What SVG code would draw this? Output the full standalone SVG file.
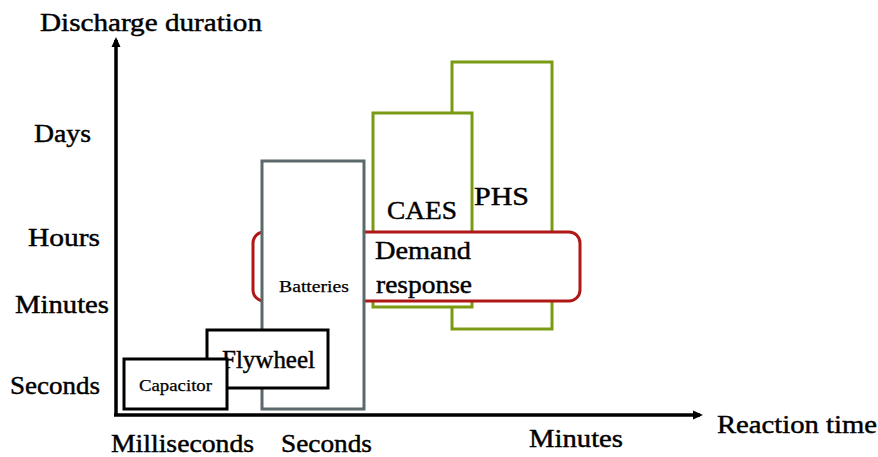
<svg xmlns="http://www.w3.org/2000/svg" width="878" height="457" viewBox="0 0 878 457">
<style>
text{font-family:"Liberation Serif","Times New Roman",serif;fill:#000;stroke:#000;stroke-width:0.45}
.lab{font-size:26px}
.box{fill:#fff;stroke-width:3}
.blk{stroke:#000}
.gry{stroke:#5b696d}
.grn{stroke:#7a9a14;fill:#fff;stroke-width:3}
.red{stroke:#b01818;fill:#fff;stroke-width:3}
</style>
<defs>
<marker id="ah" markerWidth="10" markerHeight="10" refX="7" refY="5" orient="auto" markerUnits="userSpaceOnUse" viewBox="0 0 10 10">
<path d="M0,0.5 L10,5 L0,9.5 z" fill="#000"/>
</marker>
</defs>
<g id="axes">
<line x1="116" y1="415" x2="116" y2="40" stroke="#000" stroke-width="3.5" marker-end="url(#ah)"/>
<line x1="114" y1="415" x2="700" y2="415" stroke="#000" stroke-width="3.5" marker-end="url(#ah)"/>
</g>
<g id="axis-labels">
<text class="lab" x="40" y="31" textLength="222" lengthAdjust="spacingAndGlyphs">Discharge duration</text>
<text class="lab" x="34" y="142" textLength="57" lengthAdjust="spacingAndGlyphs">Days</text>
<text class="lab" x="28" y="246" textLength="72" lengthAdjust="spacingAndGlyphs">Hours</text>
<text class="lab" x="15" y="313" textLength="94" lengthAdjust="spacingAndGlyphs">Minutes</text>
<text class="lab" x="10" y="394" textLength="90" lengthAdjust="spacingAndGlyphs">Seconds</text>
<text class="lab" x="111" y="452" textLength="143" lengthAdjust="spacingAndGlyphs">Milliseconds</text>
<text class="lab" x="281" y="452" textLength="91" lengthAdjust="spacingAndGlyphs">Seconds</text>
<text class="lab" x="529" y="447" textLength="94" lengthAdjust="spacingAndGlyphs">Minutes</text>
<text class="lab" x="717" y="433" textLength="160" lengthAdjust="spacingAndGlyphs">Reaction time</text>
</g>
<g id="phs">
<rect class="grn" x="452" y="62" width="100" height="267"/>
<text class="lab" x="474" y="205" textLength="55" lengthAdjust="spacingAndGlyphs">PHS</text>
</g>
<g id="caes">
<rect class="grn" x="373" y="113" width="99" height="194"/>
<text class="lab" x="387" y="219" textLength="70" lengthAdjust="spacingAndGlyphs">CAES</text>
</g>
<g id="demand-response">
<rect class="red" x="253" y="232" width="327" height="69" rx="11"/>
<text class="lab" x="375" y="259" textLength="96" lengthAdjust="spacingAndGlyphs">Demand</text>
<text class="lab" x="376" y="293" textLength="96" lengthAdjust="spacingAndGlyphs">response</text>
</g>
<g id="batteries">
<rect class="box gry" x="262" y="161" width="102" height="248"/>
<text x="279" y="292" font-size="17" style="stroke-width:0.25" textLength="70" lengthAdjust="spacingAndGlyphs">Batteries</text>
</g>
<g id="flywheel">
<rect class="box blk" x="207" y="330" width="121" height="58"/>
<text class="lab" x="222" y="368" textLength="93" lengthAdjust="spacingAndGlyphs">Flywheel</text>
</g>
<g id="capacitor">
<rect class="box blk" x="124" y="359" width="103" height="50"/>
<text x="139" y="391" font-size="17" style="stroke-width:0.25" textLength="73" lengthAdjust="spacingAndGlyphs">Capacitor</text>
</g>
</svg>
